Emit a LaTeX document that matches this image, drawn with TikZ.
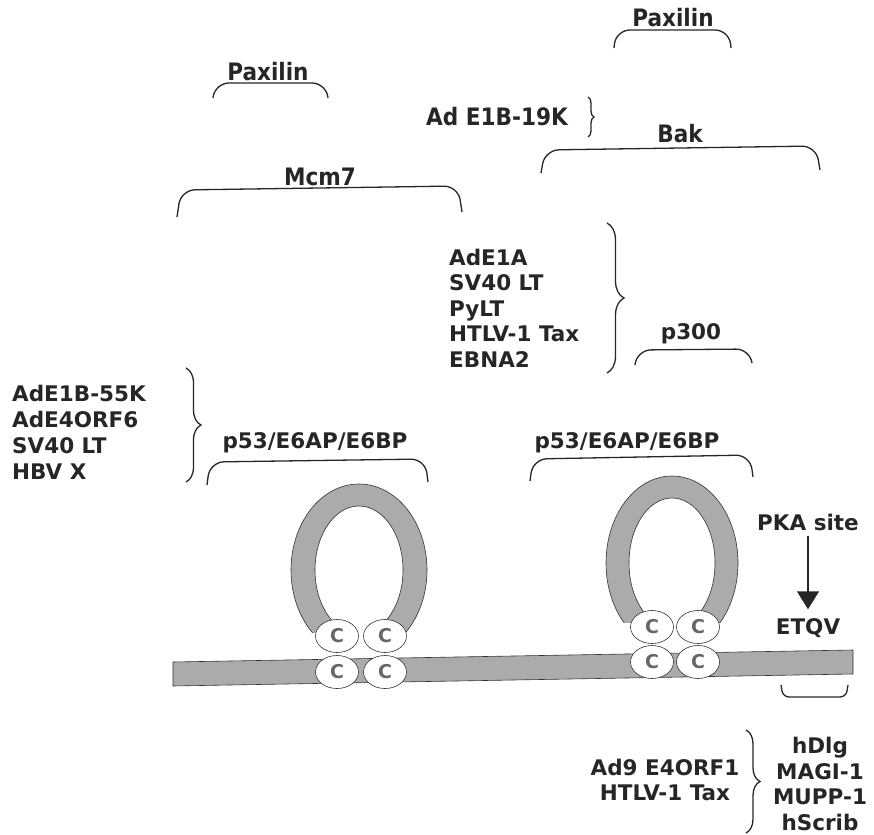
\documentclass[tikz,border=0pt]{standalone}
\usepackage{fontspec}
\setmainfont{DejaVu Sans}
\newfontfamily\narrowfont{DejaVu Sans Condensed}
\usetikzlibrary{decorations.pathreplacing,shapes.geometric,arrows.meta}
\begin{document}
\begin{tikzpicture}[x=1pt,y=-1pt,
  lbl/.style={font=\fontsize{21.5}{25.5}\selectfont\bfseries, text=black!85, inner sep=0pt},
  nlbl/.style={font=\narrowfont\fontsize{24}{26}\selectfont\bfseries, text=black!85, inner sep=0pt},
  brk/.style={draw=black!85, line width=1.3pt, rounded corners=14pt},
  brc/.style={draw=black!85, line width=1.3pt, decorate},
  ring/.style={fill=black!33, draw=black!80, line width=0.6pt, even odd rule},
  cys/.style={shape=ellipse, draw=black!80, fill=white, line width=0.6pt, minimum width=43pt, minimum height=33pt, inner sep=0pt, font=\fontsize{19}{19}\selectfont\bfseries, text=black!60}
]
\useasboundingbox (0,0) rectangle (874,834);

% top labels
\node[nlbl] (paxR) at (673,18) {Paxilin};
\draw[brk] (614,48) -- (616,30) -- (729,30) -- (731,48);
\node[nlbl] (paxL) at (268,72) {Paxilin};
\draw[brk] (213,98) -- (215,83) -- (326,83) -- (328,98);
\node[nlbl, anchor=east] (e19) at (568,117) {Ad E1B-19K};
\draw[brc, decoration={brace, amplitude=6pt}] (588,97) -- (588,137);
\node[nlbl] (bak) at (680,134) {Bak};
\draw[brk] (541,173) -- (545,150) -- (816,146) -- (820,170);
\node[nlbl] (mcm) at (320,177) {Mcm7};
\draw[brk] (177,217) -- (181,190) -- (458,186) -- (462,212);

% middle list
\node[lbl, anchor=west, align=left] (list1) at (449,308) {AdE1A\\SV40 LT\\PyLT\\HTLV-1 Tax\\EBNA2};
\draw[brc, decoration={brace, amplitude=17pt}] (607,223) -- (607,373);
\node[lbl] (p300) at (691,334) {p300};
\draw[brk] (635,365) -- (637,350) -- (750,349) -- (752,363);

% left list
\node[lbl, anchor=west, align=left, font=\fontsize{21.5}{26}\selectfont\bfseries] (list2) at (12,432) {AdE1B-55K\\AdE4ORF6\\SV40 LT\\HBV X};
\draw[brc, decoration={brace, amplitude=15pt}] (186,368) -- (186,482);

\node[lbl] (p53L) at (315,443) {p53/E6AP/E6BP};
\draw[brk] (207,485) -- (210,462) -- (425,459) -- (428,482);
\node[lbl] (p53R) at (627,443) {p53/E6AP/E6BP};
\draw[brk] (530,481) -- (533,459) -- (750,455) -- (753,477);

% loops
\begin{scope}
  \clip (0,0) rectangle (874,632);
  \path[ring] (359,570) ellipse[x radius=68, y radius=86] (359,570) ellipse[x radius=44, y radius=64];
\end{scope}
\begin{scope}
  \clip (0,0) rectangle (874,622);
  \path[ring] (672,563) ellipse[x radius=66, y radius=87] (672,563) ellipse[x radius=43, y radius=65];
\end{scope}

% bar
\path[fill=black!33, draw=black!80, line width=0.6pt] (173,662) -- (853,650) -- (853,674) -- (173,686) -- cycle;

% cysteines
\node[cys] (c1) at (337,636) {C};
\node[cys] (c2) at (385,636) {C};
\node[cys] (c3) at (337,672) {C};
\node[cys] (c4) at (385,672) {C};
\node[cys] (c5) at (652,627) {C};
\node[cys] (c6) at (698,627) {C};
\node[cys] (c7) at (652,662) {C};
\node[cys] (c8) at (698,662) {C};

% PKA
\node[lbl] (pka) at (808,522) {PKA site};
\node[lbl] (etqv) at (808,628) {ETQV};
\draw[line width=1.5pt, draw=black!85, -{Triangle[width=22pt,length=18pt]}, shorten <=5pt, shorten >=9pt] (pka) -- (etqv);
\draw[draw=black!85, line width=1.3pt, rounded corners=6pt] (781,685) -- (783,697) -- (846,697) -- (848,685);

% bottom
\node[lbl, align=center] (bl) at (665,780) {Ad9 E4ORF1\\HTLV-1 Tax};
\draw[brc, decoration={brace, amplitude=14pt}] (746,730) -- (746,833);
\node[lbl, align=center] (br) at (820,784) {hDlg\\MAGI-1\\MUPP-1\\hScrib};
\end{tikzpicture}
\end{document}
